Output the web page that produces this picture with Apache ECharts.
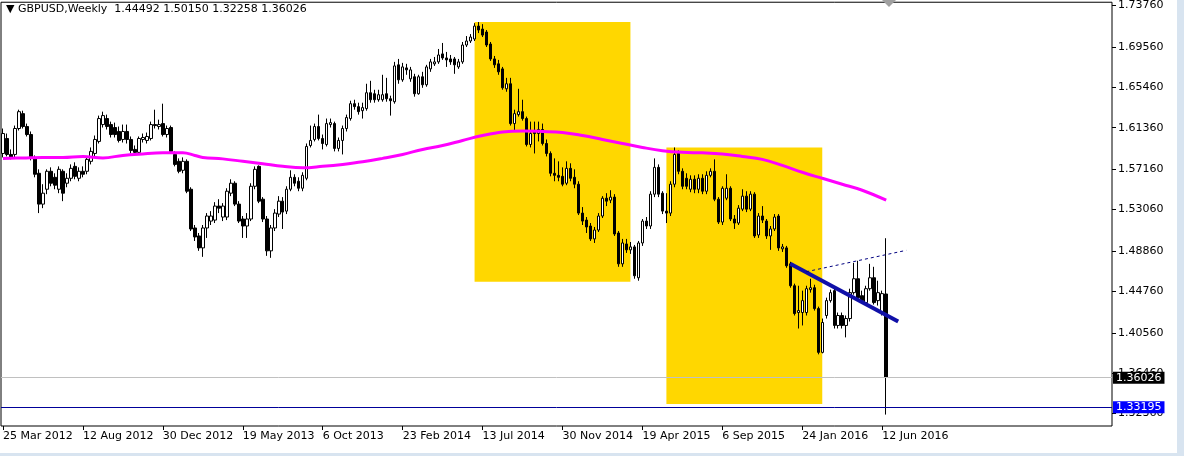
<!DOCTYPE html>
<html><head><meta charset="utf-8">
<script src="https://cdn.jsdelivr.net/npm/echarts@6/dist/echarts.min.js"></script>
<style>html,body{margin:0;padding:0;background:#fff;overflow:hidden}#c{width:1184px;height:456px}</style>
</head><body><div id="c"></div>
<script>
// ---- data ----
const startDate = '2012-03-25';
const weekCount = 278;
const xTickLabels = ['25 Mar 2012','12 Aug 2012','30 Dec 2012','19 May 2013','6 Oct 2013','23 Feb 2014','13 Jul 2014','30 Nov 2014','19 Apr 2015','6 Sep 2015','24 Jan 2016','12 Jun 2016'];
const yTickValues = [1.3236,1.3646,1.4056,1.4476,1.4886,1.5306,1.5716,1.6136,1.6546,1.6956,1.7376];

const openPrices = [
1.5875,1.6027,1.5865,1.5865,1.6128,1.6279,1.6148,1.6067,1.5825,1.5674,
1.5361,1.5512,1.5694,1.5633,1.5512,1.5694,1.5573,1.5623,1.5744,1.5623,
1.5694,1.5694,1.5795,1.5875,1.5997,1.6168,1.6229,1.6168,1.6138,1.6098,
1.6017,1.6098,1.6017,1.5916,1.5886,1.6017,1.6007,1.6027,1.6168,1.6148,
1.6178,1.6067,1.6138,1.5865,1.5795,1.5704,1.5795,1.5512,1.5119,1.5038,
1.4917,1.5119,1.5189,1.5199,1.5341,1.5230,1.5230,1.5472,1.5573,1.5361,
1.5210,1.5139,1.5210,1.5542,1.5744,1.5411,1.5210,1.4887,1.5119,1.5260,
1.5391,1.5290,1.5512,1.5633,1.5593,1.5522,1.5623,1.5956,1.6017,1.6148,
1.6027,1.5966,1.6168,1.6178,1.5926,1.6007,1.6128,1.6229,1.6380,1.6350,
1.6309,1.6330,1.6491,1.6481,1.6420,1.6420,1.6481,1.6430,1.6400,1.6774,
1.6622,1.6743,1.6632,1.6653,1.6481,1.6653,1.6572,1.6733,1.6784,1.6804,
1.6885,1.6844,1.6834,1.6834,1.6753,1.6804,1.6975,1.7016,1.7036,1.7167,
1.7137,1.7107,1.6985,1.6834,1.6784,1.6733,1.6531,1.6582,1.6178,1.6269,
1.6299,1.6229,1.5966,1.6098,1.6077,1.6118,1.5976,1.5875,1.5674,1.5653,
1.5643,1.5573,1.5724,1.5633,1.5563,1.5270,1.5199,1.5139,1.5008,1.5098,
1.5240,1.5421,1.5401,1.5432,1.5068,1.4755,1.4957,1.4897,1.4927,1.4614,
1.4967,1.5189,1.5139,1.5462,1.5734,1.5472,1.5290,1.5270,1.5563,1.5875,
1.5694,1.5623,1.5512,1.5613,1.5512,1.5623,1.5492,1.5653,1.5694,1.5411,
1.5179,1.5421,1.5522,1.5210,1.5169,1.5310,1.5442,1.5310,1.5462,1.5048,
1.5240,1.5189,1.5038,1.5109,1.5240,1.4907,1.4917,1.4755,1.4533,1.4261,
1.4261,1.4261,1.4493,1.4513,1.4301,1.3857,1.4231,1.4382,1.4483,1.4130,
1.4231,1.4130,1.4200,1.4463,1.4604,1.4432,1.4362,1.4503,1.4614,1.4382,
1.4261,1.44492];
const closePrices = [
1.6077,1.5865,1.5835,1.6128,1.6299,1.6148,1.6067,1.5825,1.5664,1.5361,
1.5472,1.5694,1.5573,1.5553,1.5714,1.5472,1.5623,1.5724,1.5643,1.5694,
1.5664,1.5815,1.5896,1.6017,1.6229,1.6259,1.6148,1.6067,1.6067,1.6007,
1.6098,1.6017,1.5906,1.5886,1.6027,1.6037,1.6047,1.6168,1.6158,1.6168,
1.6067,1.6128,1.5896,1.5764,1.5694,1.5795,1.5492,1.5109,1.5028,1.4917,
1.5119,1.5240,1.5240,1.5341,1.5320,1.5341,1.5492,1.5573,1.5361,1.5189,
1.5139,1.5210,1.5542,1.5714,1.5391,1.5210,1.4887,1.5119,1.5270,1.5391,
1.5280,1.5512,1.5633,1.5573,1.5522,1.5653,1.5946,1.6007,1.6148,1.6027,
1.5976,1.6178,1.6188,1.5926,1.6007,1.6128,1.6239,1.6380,1.6350,1.6299,
1.6340,1.6491,1.6420,1.6420,1.6471,1.6471,1.6430,1.6410,1.6763,1.6622,
1.6753,1.6723,1.6723,1.6481,1.6653,1.6572,1.6753,1.6804,1.6804,1.6874,
1.6844,1.6824,1.6804,1.6774,1.6804,1.6975,1.7016,1.7056,1.7167,1.7127,
1.7076,1.6975,1.6834,1.6774,1.6703,1.6541,1.6582,1.6178,1.6279,1.6299,
1.6229,1.5966,1.6077,1.6077,1.6118,1.5976,1.5875,1.5674,1.5653,1.5633,
1.5563,1.5724,1.5623,1.5563,1.5270,1.5189,1.5129,1.5008,1.5098,1.5240,
1.5421,1.5391,1.5432,1.5058,1.4755,1.4967,1.4897,1.4927,1.4634,1.4967,
1.5189,1.5139,1.5462,1.5734,1.5462,1.5290,1.5270,1.5563,1.5865,1.5694,
1.5542,1.5542,1.5613,1.5512,1.5623,1.5492,1.5653,1.5694,1.5411,1.5179,
1.5522,1.5522,1.5210,1.5169,1.5320,1.5442,1.5310,1.5462,1.5038,1.5240,
1.5199,1.5038,1.5109,1.5230,1.4917,1.4927,1.4735,1.4533,1.4251,1.4281,
1.4382,1.4503,1.4513,1.4301,1.3857,1.4160,1.4382,1.4463,1.4130,1.4231,
1.4130,1.4200,1.4463,1.4604,1.4412,1.4382,1.4503,1.4614,1.4362,1.4463,
1.4453,1.36026];
const lowPrices = [
1.5835,1.5845,1.5815,1.5835,1.6108,1.6128,1.6047,1.5805,1.5633,1.5270,
1.5320,1.5462,1.5542,1.5512,1.5472,1.5391,1.5532,1.5593,1.5613,1.5593,
1.5633,1.5664,1.5764,1.5845,1.5976,1.6138,1.6118,1.6037,1.6037,1.5986,
1.5986,1.5976,1.5875,1.5855,1.5865,1.5986,1.5976,1.6007,1.6128,1.6118,
1.6047,1.6037,1.5875,1.5744,1.5674,1.5674,1.5472,1.5088,1.4987,1.4887,
1.4826,1.5018,1.5149,1.5169,1.5270,1.5189,1.5199,1.5442,1.5341,1.5169,
1.5018,1.5018,1.5189,1.5512,1.5371,1.5179,1.4836,1.4816,1.5088,1.5230,
1.5109,1.5260,1.5492,1.5542,1.5492,1.5492,1.5603,1.5936,1.5997,1.6007,
1.5916,1.5946,1.6138,1.5896,1.5896,1.5865,1.6098,1.6208,1.6319,1.6269,
1.6229,1.6309,1.6390,1.6390,1.6400,1.6400,1.6400,1.6259,1.6380,1.6582,
1.6602,1.6673,1.6602,1.6451,1.6471,1.6541,1.6552,1.6703,1.6763,1.6784,
1.6824,1.6753,1.6774,1.6683,1.6733,1.6784,1.6955,1.6996,1.7016,1.7096,
1.7056,1.6955,1.6814,1.6743,1.6673,1.6521,1.6501,1.6158,1.6098,1.6249,
1.6208,1.5946,1.5936,1.5875,1.5997,1.5956,1.5845,1.5643,1.5593,1.5593,
1.5542,1.5553,1.5593,1.5522,1.5250,1.5149,1.5068,1.4987,1.4967,1.5078,
1.5220,1.5341,1.5371,1.5038,1.4725,1.4725,1.4866,1.4856,1.4604,1.4584,
1.4937,1.5109,1.5109,1.5432,1.5432,1.5260,1.5169,1.5240,1.5532,1.5664,
1.5512,1.5512,1.5482,1.5472,1.5472,1.5462,1.5462,1.5633,1.5391,1.5159,
1.5149,1.5401,1.5189,1.5109,1.5149,1.5290,1.5280,1.5290,1.5018,1.5018,
1.5169,1.5008,1.4897,1.5088,1.4887,1.4876,1.4715,1.4513,1.4231,1.4099,
1.4130,1.4231,1.4463,1.4281,1.3837,1.3847,1.4200,1.4362,1.4099,1.4099,
1.4099,1.4009,1.4170,1.4442,1.4392,1.4352,1.4332,1.4483,1.4342,1.4332,
1.4231,1.32258];
const highPrices = [
1.6128,1.6077,1.5916,1.6158,1.6319,1.6309,1.6178,1.6098,1.5855,1.5714,
1.5563,1.5714,1.5734,1.5674,1.5744,1.5714,1.5674,1.5764,1.5785,1.5734,
1.5744,1.5845,1.5936,1.6057,1.6259,1.6299,1.6269,1.6198,1.6188,1.6148,
1.6168,1.6168,1.6047,1.5956,1.6047,1.6077,1.6087,1.6198,1.6319,1.6218,
1.6380,1.6158,1.6158,1.5896,1.5825,1.5835,1.5815,1.5532,1.5149,1.5068,
1.5149,1.5270,1.5290,1.5381,1.5411,1.5371,1.5522,1.5613,1.5593,1.5391,
1.5240,1.5270,1.5573,1.5744,1.5754,1.5432,1.5240,1.5149,1.5310,1.5442,
1.5432,1.5542,1.5704,1.5664,1.5633,1.5684,1.5976,1.6158,1.6178,1.6269,
1.6067,1.6229,1.6229,1.6198,1.6037,1.6158,1.6269,1.6410,1.6420,1.6390,
1.6390,1.6582,1.6612,1.6521,1.6521,1.6673,1.6642,1.6461,1.6804,1.6834,
1.6794,1.6784,1.6753,1.6683,1.6673,1.6703,1.6774,1.6834,1.6854,1.6935,
1.6996,1.6905,1.6874,1.6854,1.6834,1.7006,1.7066,1.7086,1.7197,1.7208,
1.7187,1.7127,1.7006,1.6864,1.6824,1.6753,1.6642,1.6642,1.6319,1.6531,
1.6420,1.6249,1.6198,1.6198,1.6198,1.6178,1.6017,1.5896,1.5825,1.5795,
1.5734,1.5795,1.5775,1.5714,1.5593,1.5331,1.5230,1.5169,1.5129,1.5270,
1.5442,1.5472,1.5502,1.5462,1.5088,1.5008,1.5008,1.4977,1.4947,1.4987,
1.5210,1.5230,1.5492,1.5825,1.5764,1.5492,1.5472,1.5593,1.5936,1.5906,
1.5724,1.5674,1.5653,1.5653,1.5664,1.5664,1.5694,1.5724,1.5815,1.5432,
1.5542,1.5664,1.5542,1.5250,1.5351,1.5512,1.5492,1.5492,1.5482,1.5270,
1.5341,1.5210,1.5139,1.5260,1.5260,1.4957,1.4937,1.4776,1.4554,1.4533,
1.4483,1.4533,1.4604,1.4543,1.4321,1.4200,1.4412,1.4493,1.4503,1.4261,
1.4261,1.4231,1.4503,1.4765,1.4786,1.4483,1.4533,1.4755,1.4725,1.4584,
1.4483,1.50150];

// moving average: [week index, value]
const maPoints = [[0,1.5825],[5,1.5830],[10,1.5835],[15,1.5835],[20,1.5845],[25,1.5830],[30,1.5855],[35,1.5870],[40,1.5881],[45,1.5883],[48,1.5855],[50,1.5835],[55,1.5820],[60,1.5795],[65,1.5770],[70,1.5744],[75,1.5729],[80,1.5744],[85,1.5764],[90,1.5790],[95,1.5825],[100,1.5865],[105,1.5916],[110,1.5956],[115,1.6007],[120,1.6057],[125,1.6093],[130,1.6103],[135,1.6098],[140,1.6088],[145,1.6057],[150,1.6017],[155,1.5976],[160,1.5936],[165,1.5903],[170,1.5886],[175,1.5881],[180,1.5870],[185,1.5845],[190,1.5815],[195,1.5754],[200,1.5684],[205,1.5623],[210,1.5563],[215,1.5502],[221,1.5401]];

// drawn objects (week index, price)
const rectA = {from: 118, to: 157, top: 1.7208, bottom: 1.4574};
const rectB = {from: 166, to: 205, top: 1.5936, bottom: 1.3333};
const trendThick = [[197, 1.4755], [224, 1.4170]];
const trendDashed = [[201, 1.4675], [226, 1.4892]];
const supportLevel = 1.33195;
const lastPrice = 1.36026;
const headerText = '\u25BC GBPUSD,Weekly  1.44492 1.50150 1.32258 1.36026';

// ---- build ----
const MON = ['Jan','Feb','Mar','Apr','May','Jun','Jul','Aug','Sep','Oct','Nov','Dec'];
const t0 = Date.parse(startDate + 'T00:00:00Z');
const categories = [];
for (let i = 0; i < weekCount; i++) {
  const d = new Date(t0 + i * 7 * 86400000);
  categories.push(d.getUTCDate() + ' ' + MON[d.getUTCMonth()] + ' ' + d.getUTCFullYear());
}
const candles = openPrices.map((o, i) => [o, closePrices[i], lowPrices[i], highPrices[i]]);
const cat = i => categories[i];
const isTick = (i, v) => xTickLabels.indexOf(categories[i]) >= 0;

const chart = echarts.init(document.getElementById('c'), null, {renderer: 'canvas'});
const FONT = 'DejaVu Sans';
chart.setOption({
  animation: false,
  backgroundColor: '#fff',
  grid: {left: 0, top: 0, width: 1112, height: 426, show: true, borderColor: '#000', borderWidth: 1, backgroundColor: 'transparent', containLabel: false},
  xAxis: {
    type: 'category', data: categories, boundaryGap: true,
    axisLine: {show: false}, splitLine: {show: false},
    axisTick: {show: true, length: 4, lineStyle: {color: '#000'}, alignWithLabel: true, interval: isTick},
    axisLabel: {interval: isTick, align: 'left', margin: 5, color: '#000', fontFamily: FONT, fontSize: 11, hideOverlap: false, showMinLabel: true}
  },
  yAxis: {
    type: 'value', position: 'right', min: 1.3110, max: 1.7409,
    axisLine: {show: false}, splitLine: {show: false},
    axisTick: {show: true, length: 4, inside: false, customValues: yTickValues, lineStyle: {color: '#000'}},
    axisLabel: {customValues: yTickValues, formatter: v => v.toFixed(5), color: '#000', fontFamily: FONT, fontSize: 11, margin: 6}
  },
  series: [
    {
      type: 'line', name: 'boxes', data: [], z: 1, silent: true,
      markArea: {silent: true, itemStyle: {color: '#ffd700', opacity: 1}, data: [
        [{xAxis: cat(rectA.from), yAxis: rectA.top}, {xAxis: cat(rectA.to), yAxis: rectA.bottom}],
        [{xAxis: cat(rectB.from), yAxis: rectB.top}, {xAxis: cat(rectB.to), yAxis: rectB.bottom}]
      ]},
      markLine: {silent: true, symbol: 'none', animation: false, data: [
        {yAxis: lastPrice, lineStyle: {color: '#c0c0c0', width: 1, type: 'solid'},
         label: {show: true, position: 'end', distance: 1, formatter: lastPrice.toFixed(5), backgroundColor: '#000', color: '#fff', padding: [1, 3, 0, 3], fontFamily: FONT, fontSize: 11}},
        {yAxis: supportLevel, lineStyle: {color: '#000099', width: 1, type: 'solid'},
         label: {show: true, position: 'end', distance: 1, formatter: supportLevel.toFixed(5), backgroundColor: '#0000ff', color: '#fff', padding: [1, 3, 0, 3], fontFamily: FONT, fontSize: 11}}
      ]}
    },
    {
      type: 'candlestick', name: 'GBPUSD', data: candles, z: 3, barWidth: 3, barMinWidth: 3, barMaxWidth: 3, large: false,
      itemStyle: {color: '#fff', color0: '#000', borderColor: '#000', borderColor0: '#000', borderWidth: 1}
    },
    {
      type: 'line', name: 'MA', data: maPoints, z: 4, smooth: 0.4, showSymbol: false, symbol: 'none', connectNulls: true,
      lineStyle: {color: '#ff00ff', width: 3}
    },
    {
      type: 'line', name: 'lines', data: [], z: 5, silent: true,
      markLine: {silent: true, symbol: 'none', label: {show: false}, data: [
        [{coord: [cat(trendThick[0][0]), trendThick[0][1]]}, {coord: [cat(trendThick[1][0]), trendThick[1][1]], lineStyle: {color: '#1010a8', width: 4, type: 'solid'}}],
        [{coord: [cat(trendDashed[0][0]), trendDashed[0][1]]}, {coord: [cat(trendDashed[1][0]), trendDashed[1][1]], lineStyle: {color: '#000080', width: 1, type: [3, 3]}}]
      ]}
    }
  ],
  graphic: [
    {type: 'text', left: 6, top: 4, z: 100, style: {text: headerText, font: '11px "' + FONT + '"', fill: '#000'}},
    {type: 'polygon', z: 100, shape: {points: [[882, 0], [896, 0], [889, 7]]}, style: {fill: '#a0a0a0'}},
    {type: 'rect', z: 100, shape: {x: 1177, y: 0, width: 7, height: 456}, style: {fill: '#d8e4f0'}},
    {type: 'rect', z: 100, shape: {x: 0, y: 453, width: 1184, height: 3}, style: {fill: '#d8e4f0'}}
  ]
});
</script></body></html>
